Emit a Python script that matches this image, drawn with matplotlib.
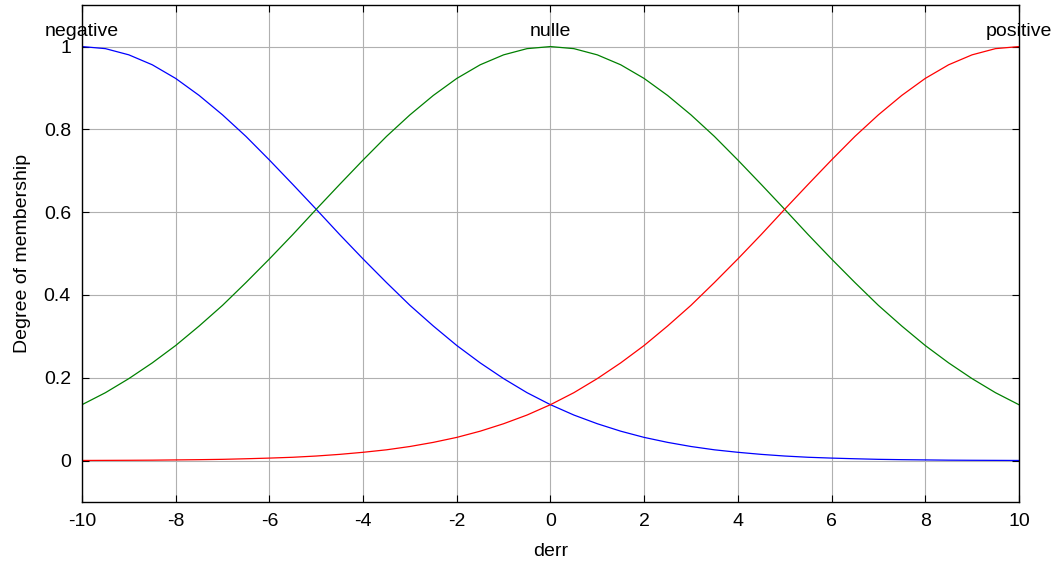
import matplotlib
matplotlib.use("Agg")
import matplotlib.pyplot as plt

plt.rcParams['font.family'] = ['Liberation Sans', 'DejaVu Sans']

x = [-10, -9.5, -9, -8.5, -8, -7.5, -7, -6.5, -6, -5.5, -5, -4.5, -4, -3.5, -3, -2.5, -2, -1.5, -1, -0.5,
     0, 0.5, 1, 1.5, 2, 2.5, 3, 3.5, 4, 4.5, 5, 5.5, 6, 6.5, 7, 7.5, 8, 8.5, 9, 9.5, 10]

nulle = [0.135, 0.164, 0.198, 0.236, 0.278, 0.325, 0.375, 0.430, 0.487, 0.546, 0.607, 0.667, 0.726, 0.783,
         0.835, 0.882, 0.923, 0.956, 0.980, 0.995, 1.000, 0.995, 0.980, 0.956, 0.923, 0.882, 0.835, 0.783,
         0.726, 0.667, 0.607, 0.546, 0.487, 0.430, 0.375, 0.325, 0.278, 0.236, 0.198, 0.164, 0.135]

negative = [1.000, 0.995, 0.980, 0.956, 0.923, 0.882, 0.835, 0.783, 0.726, 0.667, 0.607, 0.546, 0.487, 0.430,
            0.375, 0.325, 0.278, 0.236, 0.198, 0.164, 0.135, 0.110, 0.089, 0.071, 0.056, 0.044, 0.034, 0.026,
            0.020, 0.015, 0.011, 0.008, 0.006, 0.0044, 0.003, 0.0022, 0.0016, 0.001, 0.0007, 0.0005, 0.0003]

positive = negative[::-1]

labels = ['negative', 'nulle', 'positive']
centers = [-10, 0, 10]
xticks = [-10, -8, -6, -4, -2, 0, 2, 4, 6, 8, 10]
yticks = [0, 0.2, 0.4, 0.6, 0.8, 1]

fig = plt.figure(figsize=(10.61, 5.62), dpi=100)
ax = fig.add_axes([0.0773, 0.1068, 0.883, 0.884])

ax.plot(x, negative, color='#0000ff', lw=0.9)
ax.plot(x, nulle, color='#008000', lw=0.9)
ax.plot(x, positive, color='#ff0000', lw=0.9)

for lab, c in zip(labels, centers):
    ax.text(c, 1.015, lab, ha='center', va='bottom', fontsize=14)

ax.set_xlim(-10, 10)
ax.set_ylim(-0.1, 1.1)
ax.set_xticks(xticks)
ax.set_xticklabels([str(t) for t in xticks])
ax.set_yticks(yticks)
ax.set_yticklabels(['0', '0.2', '0.4', '0.6', '0.8', '1'])
ax.tick_params(direction='in', top=True, right=True, length=5, width=0.8, labelsize=14, pad=8)
ax.grid(True, color='#b0b0b0', lw=0.8, ls='-')
for s in ax.spines.values():
    s.set_linewidth(1.0)
ax.set_xlabel('derr', fontsize=14, labelpad=9)
ax.set_ylabel('Degree of membership', fontsize=14, labelpad=9)

fig.savefig('out.png', dpi=100)
